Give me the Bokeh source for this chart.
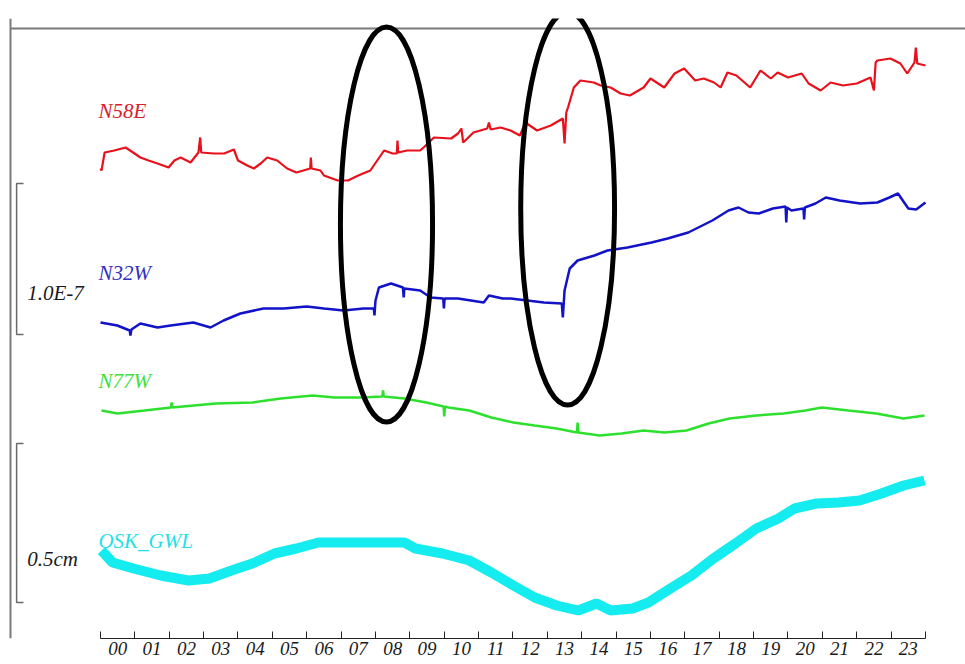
from bokeh.plotting import figure
from bokeh.models import Range1d, LinearAxis, FixedTicker, Span, ColumnDataSource
from bokeh.core.properties import value
from bokeh.embed import file_html
from bokeh.resources import INLINE

# ---------------- data (hours, vertical display level; larger = lower on page) -------------
hour_labels = ["%02d" % i for i in range(24)]

n58e_t = [0.00, 0.03, 0.12, 0.40, 0.73, 0.95, 1.16, 1.40, 1.66, 1.98, 2.15, 2.33, 2.62, 2.85, 2.90, 2.93,
          3.30, 3.60, 3.88, 4.00, 4.27, 4.46, 4.66, 4.85, 5.14, 5.43, 5.70, 6.10, 6.12, 6.14, 6.40, 6.50,
          6.90, 7.20, 7.50, 7.85, 8.05, 8.25, 8.50, 8.62, 8.64, 8.66, 8.92, 9.30, 9.40, 9.70, 10.20, 10.40,
          10.50, 10.55, 10.85, 11.25, 11.30, 11.35, 11.64, 11.93, 12.20, 12.36, 12.70, 13.10, 13.45, 13.50,
          13.55, 13.60, 13.77, 13.96, 14.35, 14.55, 14.84, 15.13, 15.40, 15.80, 16.00, 16.40, 16.70, 16.98,
          17.30, 17.55, 17.85, 18.04, 18.24, 18.50, 18.90, 19.20, 19.50, 19.70, 20.00, 20.40, 20.60, 20.95,
          21.24, 21.60, 22.00, 22.40, 22.50, 22.55, 22.60, 22.98, 23.27, 23.47, 23.68, 23.72, 23.76, 24.00]
n58e_v = [168, 170, 152, 150, 147, 152, 157, 160, 163, 167, 160, 157, 162, 152, 137, 152,
          153, 153, 149, 160, 165, 168, 163, 157, 160, 168, 172, 168, 157, 168, 170, 175,
          180, 180, 175, 170, 160, 150, 153, 153, 140, 152, 150, 150, 147, 137, 138, 133,
          128, 142, 132, 128, 122, 129, 127, 130, 135, 122, 130, 125, 118, 143,
          112, 107, 87, 80, 82, 85, 87, 93, 95, 87, 78, 87, 73, 68,
          80, 78, 82, 87, 72, 75, 87, 70, 78, 72, 77, 73, 83, 90,
          82, 85, 83, 77, 90, 62, 60, 58, 63, 73, 62, 47, 63, 65]

n32w_t = [0.00, 0.49, 0.85, 0.87, 0.90, 1.16, 1.66, 2.04, 2.70, 3.20, 3.58, 4.07, 4.74, 5.33, 6.00, 6.50,
          7.07, 7.65, 7.95, 7.97, 8.00, 8.10, 8.45, 8.80, 8.82, 8.84, 9.30, 9.60, 9.97, 9.99, 10.01, 10.40,
          11.15, 11.30, 11.70, 11.93, 12.90, 13.42, 13.45, 13.50, 13.65, 13.88, 14.37, 14.75, 15.33, 16.03,
          16.50, 17.10, 17.80, 18.27, 18.56, 18.85, 19.15, 19.56, 19.93, 19.95, 19.97, 20.10, 20.45, 20.47,
          20.49, 20.80, 21.10, 21.50, 22.10, 22.60, 22.95, 23.20, 23.50, 23.73, 24.00]
n32w_v = [322, 325, 330, 335, 329, 323, 327, 325, 322, 327, 320, 313, 308, 308, 306, 308,
          310, 308, 308, 315, 300, 287, 283, 287, 297, 288, 290, 297, 298, 308, 298, 298,
          302, 295, 298, 298, 302, 303, 317, 290, 268, 260, 255, 250, 247, 242,
          238, 232, 220, 210, 207, 212, 213, 208, 206, 222, 207, 210, 208, 219,
          207, 203, 197, 200, 203, 202, 197, 193, 208, 209, 202]

n77w_t = [0.03, 0.49, 1.28, 2.05, 2.07, 2.09, 3.35, 4.42, 5.24, 6.17, 6.81, 7.59, 8.20, 8.22, 8.24, 8.84,
          9.48, 9.98, 10.00, 10.02, 10.12, 10.73, 11.37, 12.01, 12.63, 13.27, 13.86, 13.88, 13.90, 14.52,
          15.16, 15.80, 16.41, 17.05, 17.69, 18.30, 19.08, 19.87, 20.51, 20.98, 21.76, 22.57, 23.36, 23.97]
n77w_v = [410, 413, 410, 407, 402, 407, 403, 402, 398, 395, 397, 397, 396, 390, 396, 398,
          402, 406, 416, 406, 407, 410, 417, 422, 425, 428, 432, 422, 432, 435,
          433, 430, 432, 430, 423, 418, 415, 413, 410, 407, 410, 413, 418, 415]

gwl_t = [0.03, 0.35, 0.96, 1.75, 2.56, 3.17, 3.81, 4.42, 5.06, 5.70, 6.34, 7.13, 8.06, 8.84, 9.16, 9.95,
         10.73, 11.37, 12.01, 12.63, 13.27, 13.90, 14.43, 14.84, 15.48, 15.94, 16.58, 17.19, 17.83, 18.47,
         19.08, 19.72, 20.19, 20.83, 21.47, 22.08, 22.72, 23.36, 23.97]
gwl_v = [550, 562, 568, 575, 580, 578, 570, 563, 553, 548, 542, 542, 542, 542, 548, 553,
         560, 572, 585, 597, 605, 610, 603, 610, 608, 602, 588, 575, 558, 543,
         528, 518, 508, 503, 502, 500, 493, 485, 480]

series_names = ["N58E", "N32W", "N77W", "OSK_GWL"]
series_colors = ["#e8101a", "#1212c8", "#2ee02e", "#14ecf0"]
label_colors = ["#d8202a", "#3030c0", "#3ce03c", "#22e0e6"]
scale_labels = ["1.0E-7", "0.5cm"]

# ---------------- annotation geometry -------------
X_START, X_END = -2.909, 25.164
Y_BOTTOM, Y_TOP = 638, 18
frame_left_x = -2.618
frame_top_y = 28
name_x = -0.06
name_y = [110, 272, 380, 540]
scale_x = -2.13
scale_y = [292, 558]
bracket_x0, bracket_x1 = -2.44, -2.24
brackets = [(183, 334), (443, 602)]
ellipse_cx = [8.32, 13.59]
ellipse_cy = [224, 208]
ellipse_w = [2.68, 2.73]
ellipse_h = [395, 393]

p = figure(width=965, height=664, output_backend="svg", toolbar_location=None,
           x_range=Range1d(X_START, X_END), y_range=Range1d(Y_BOTTOM, Y_TOP),
           x_axis_location=None, y_axis_location=None,
           min_border_left=0, min_border_right=0, min_border_top=18, min_border_bottom=26)
p.outline_line_color = None
p.xgrid.visible = False
p.ygrid.visible = False
p.background_fill_color = "white"
p.border_fill_color = "white"

# frame lines (left and top)
p.add_layout(Span(location=frame_left_x, dimension="height", line_color="#7a7a7a", line_width=2))
p.segment(x0=[frame_left_x], y0=[frame_top_y], x1=[X_END], y1=[frame_top_y],
          line_color="#7a7a7a", line_width=2)

# traces
p.line(gwl_t, gwl_v, line_color=series_colors[3], line_width=10, line_join="bevel")
p.line(n77w_t, n77w_v, line_color=series_colors[2], line_width=2.5)
p.line(n32w_t, n32w_v, line_color=series_colors[1], line_width=2.5)
p.line(n58e_t, n58e_v, line_color=series_colors[0], line_width=2.2)

# series names
src = ColumnDataSource(dict(x=[name_x] * 4, y=name_y, text=series_names, color=label_colors))
p.text(x="x", y="y", text="text", text_color="color", source=src,
       text_font=value("Liberation Serif"), text_font_style="italic", text_font_size="21px",
       text_baseline="middle", text_align="left")

# scale labels
p.text(x=[scale_x] * 2, y=scale_y, text=scale_labels, text_color="#1a1a1a",
       text_font=value("Liberation Serif"), text_font_style="italic", text_font_size="21px",
       text_baseline="middle", text_align="left")

# scale brackets
for (y0, y1) in brackets:
    p.line([bracket_x1, bracket_x0, bracket_x0, bracket_x1], [y0, y0, y1, y1],
           line_color="#6a6a6a", line_width=1.5)

# ellipses
p.ellipse(x=ellipse_cx, y=ellipse_cy, width=ellipse_w, height=ellipse_h,
          fill_color=None, line_color="black", line_width=5)

# time axis
xa = LinearAxis(ticker=FixedTicker(ticks=[i + 0.5 for i in range(24)], minor_ticks=list(range(25))),
                major_label_overrides={i + 0.5: lab for i, lab in enumerate(hour_labels)},
                bounds=(0, 24))
xa.major_tick_in = 0
xa.major_tick_out = 0
xa.minor_tick_in = 7
xa.minor_tick_out = 0
xa.minor_tick_line_color = "#222222"
xa.axis_line_color = "#222222"
xa.axis_line_width = 1
xa.major_label_standoff = 3
xa.major_label_text_font = "Liberation Serif"
xa.major_label_text_font_style = "italic"
xa.major_label_text_font_size = "19px"
xa.major_label_text_color = "#1a1a1a"
p.add_layout(xa, "below")

open("out.html", "w").write(file_html(p, INLINE))
